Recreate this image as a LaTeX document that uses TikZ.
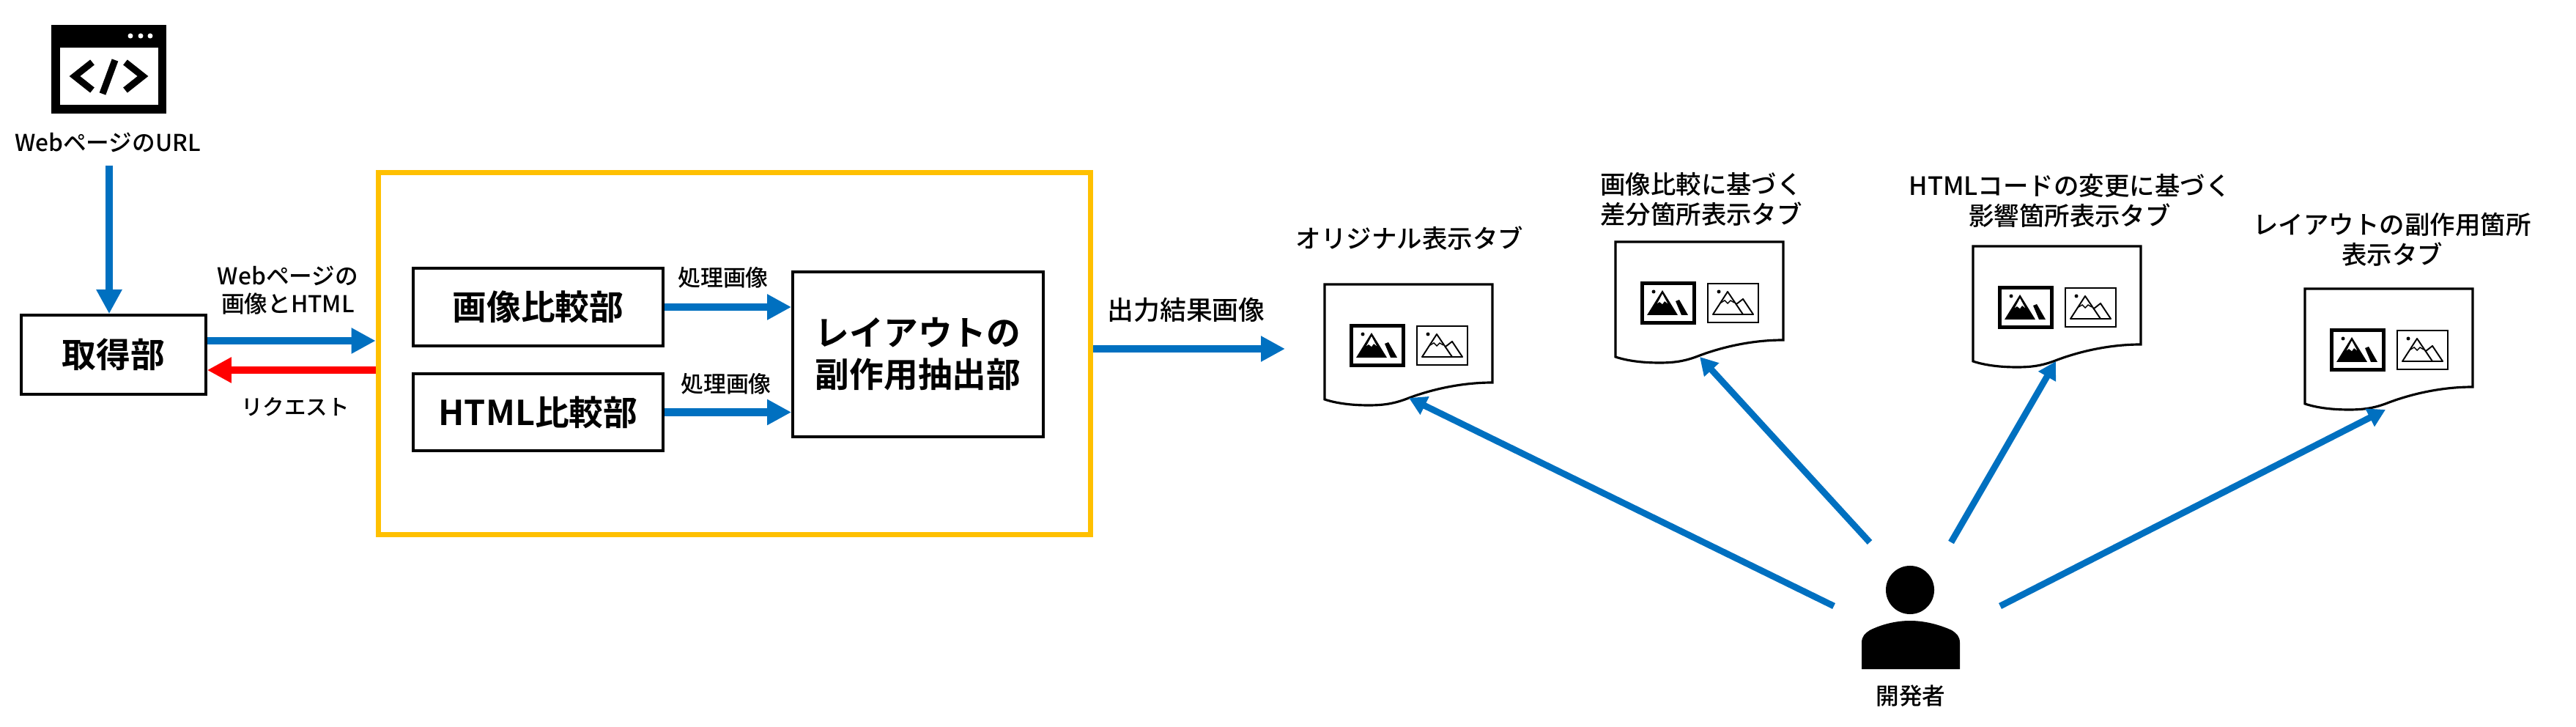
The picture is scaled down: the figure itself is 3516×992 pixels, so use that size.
\documentclass[tikz,border=0pt]{standalone}
\usepackage{fontspec}
\setmainfont{Noto Sans CJK JP}[BoldFont={Noto Sans CJK JP Medium}]
\newfontfamily\heavyfont{Noto Sans CJK JP Bold}
\usepackage{xcolor}
\usetikzlibrary{arrows.meta}
\definecolor{FlowBlue}{HTML}{0070C0}
\definecolor{FlowRed}{HTML}{FF0000}
\definecolor{UnitYellow}{HTML}{FFC000}

\begin{document}
\begin{tikzpicture}[
	x=0.01cm, y=-0.01cm, % One unit is one pixel of the reference
	% Style for the black module boxes
	box node/.style={
		rectangle,
		draw=black,
		line width=1pt,
		fill=white,
		inner sep=0pt,
		font=\fontsize{13.3}{16.2}\selectfont\heavyfont,
		align=center
	},
	% Style for the free text labels
	label node/.style={
		inner sep=0pt,
		font=\fontsize{9}{10.8}\selectfont\bfseries,
		align=center
	},
	% Style for the tab titles
	title node/.style={
		inner sep=0pt,
		font=\fontsize{9.8}{11.7}\selectfont\bfseries,
		align=center
	},
	% Styles for the connecting arrows
	flow/.style={
		draw=FlowBlue,
		line width=3.1pt,
		-{Triangle[length=3.3mm,width=3.3mm]}
	},
	request/.style={
		draw=FlowRed,
		line width=3.1pt,
		-{Triangle[length=3.3mm,width=3.3mm]}
	},
	use/.style={
		draw=FlowBlue,
		line width=2.5pt,
		-{Triangle[length=2.4mm,width=2.6mm]}
	},
	% One tab page with its two picture icons, origin at the top left corner
	tabdoc/.pic={
		\draw[line width=0.9pt, fill=white] (0,0) -- (229,0) -- (229,134)
			.. controls (190,134) and (150,142) .. (115,155)
			.. controls (95,163) and (80,165) .. (60,165)
			.. controls (35,165) and (15,162) .. (0,157) -- cycle;
		% Heavy icon
		\draw[line width=1.2pt] (36.5,56.5) rectangle (107.5,110.5);
		\fill (52,68) circle (2.5);
		\fill (64,66) -- (85,100) -- (43,100) -- cycle;
		\fill[white] (64,71) -- (71,84) -- (67,81) -- (64,85) -- (60,82) -- (57,84) -- cycle;
		\fill (82,81) -- (87,79) -- (99,100) -- (90,100) -- cycle;
		% Light icon
		\draw[line width=0.45pt] (126,57) rectangle (195,110);
		\fill (141,68) circle (2.5);
		\draw[line width=0.55pt, line join=round] (133,99) -- (153,68) -- (174,99) -- cycle;
		\draw[line width=0.55pt, line join=round] (165,85) -- (174,78) -- (188,99) -- (174,99);
		\draw[line width=0.4pt] (144,83) -- (149,80) -- (153,84) -- (157,80) -- (162,83);
	}
	]
	
	\useasboundingbox (0,0) rectangle (3516,992);
	
	% 1. Web page icon
	\fill (70,34) rectangle (227,155);
	\fill[white] (82,65) rectangle (216,143);
	\fill[white] (178,49) circle (3.5);
	\fill[white] (192,49) circle (3.5);
	\fill[white] (205,49) circle (3.5);
	\draw[line width=2.6pt] (126,85) -- (102,104) -- (126,123);
	\draw[line width=2.6pt] (157,82) -- (140,128);
	\draw[line width=2.6pt] (171,85) -- (195,104) -- (171,123);
	\node[label node] (url) at (147,194) {WebページのURL};
	
	% 2. Module boxes
	\node[box node, minimum width=2.52cm, minimum height=1.08cm] (acquire) at (155,484) {取得部};
	\node[rectangle, draw=UnitYellow, line width=2pt, minimum width=9.72cm, minimum height=4.945cm] (unit) at (1002.5,482.5) {};
	\node[box node, minimum width=3.41cm, minimum height=1.06cm] (imgcomp) at (734.5,419) {画像比較部};
	\node[box node, minimum width=3.41cm, minimum height=1.05cm] (htmlcomp) at (734.5,562.5) {HTML比較部};
	\node[box node, minimum width=3.42cm, minimum height=2.25cm] (extract) at (1253,483.5) {レイアウトの\\副作用抽出部};
	
	% 3. Tab pages
	\pic at (1808,388) {tabdoc};
	\pic at (2205,330) {tabdoc};
	\pic at (2693,336) {tabdoc};
	\pic at (3146,394) {tabdoc};
	\node[title node] (tab1) at (1924,325) {オリジナル表示タブ};
	\node[title node] (tab2) at (2322,272) {画像比較に基づく\\差分箇所表示タブ};
	\node[title node] (tab3) at (2825,274) {HTMLコードの変更に基づく\\影響箇所表示タブ};
	\node[title node] (tab4) at (3265,327) {レイアウトの副作用箇所\\表示タブ};
	
	% 4. Developer
	\node[circle, fill=black, minimum size=0.66cm, inner sep=0pt] (head) at (2607,805) {};
	\fill (2541,913) -- (2541,877) .. controls (2541,868) and (2546,864) .. (2552,860)
		.. controls (2570,851) and (2590,847) .. (2607,847)
		.. controls (2624,847) and (2644,851) .. (2664,860)
		.. controls (2670,864) and (2675,868) .. (2675,877) -- (2675,913) -- cycle;
	\node[label node] (developer) at (2608,950) {開発者};
	
	% 5. Text on the arrows
	\node[label node] (webdata) at (393,396) {Webページの\\画像とHTML};
	\node[label node, font=\fontsize{8.4}{10}\selectfont\bfseries] (reqtext) at (403,555) {リクエスト};
	\node[label node, font=\fontsize{8.8}{10}\selectfont\bfseries] (proc1) at (987,379) {処理画像};
	\node[label node, font=\fontsize{8.8}{10}\selectfont\bfseries] (proc2) at (991,524) {処理画像};
	\node[label node, font=\fontsize{10.2}{12}\selectfont\bfseries] (outtext) at (1619,423) {出力結果画像};
	
	% 6. Free ends of the arrows
	\coordinate (urlend) at (149,226);
	\coordinate (webline) at (0,465);
	\coordinate (reqline) at (0,505);
	\coordinate (outline) at (0,476);
	\coordinate (outtip) at (1754,476);
	\coordinate (dev1) at (2503,827);
	\coordinate (dev2) at (2552,740);
	\coordinate (dev3) at (2663,740);
	\coordinate (dev4) at (2730,827);
	\coordinate (tip1) at (1923,543);
	\coordinate (tip2) at (2320,487);
	\coordinate (tip3) at (2806,493);
	\coordinate (tip4) at (3256,559);
	
	% 7. Draw the arrows
	\draw[flow] (urlend) -- (urlend |- acquire.north);
	\draw[flow] (acquire.east |- webline) -- (unit.west |- webline);
	\draw[request] (unit.west |- reqline) -- (acquire.east |- reqline);
	\draw[flow] (imgcomp.east) -- (extract.west |- imgcomp.east);
	\draw[flow] (htmlcomp.east) -- (extract.west |- htmlcomp.east);
	\draw[flow] (unit.east |- outline) -- (outtip);
	\draw[use] (dev1) -- (tip1);
	\draw[use] (dev2) -- (tip2);
	\draw[use] (dev3) -- (tip3);
	\draw[use] (dev4) -- (tip4);
	
\end{tikzpicture}
\end{document}
